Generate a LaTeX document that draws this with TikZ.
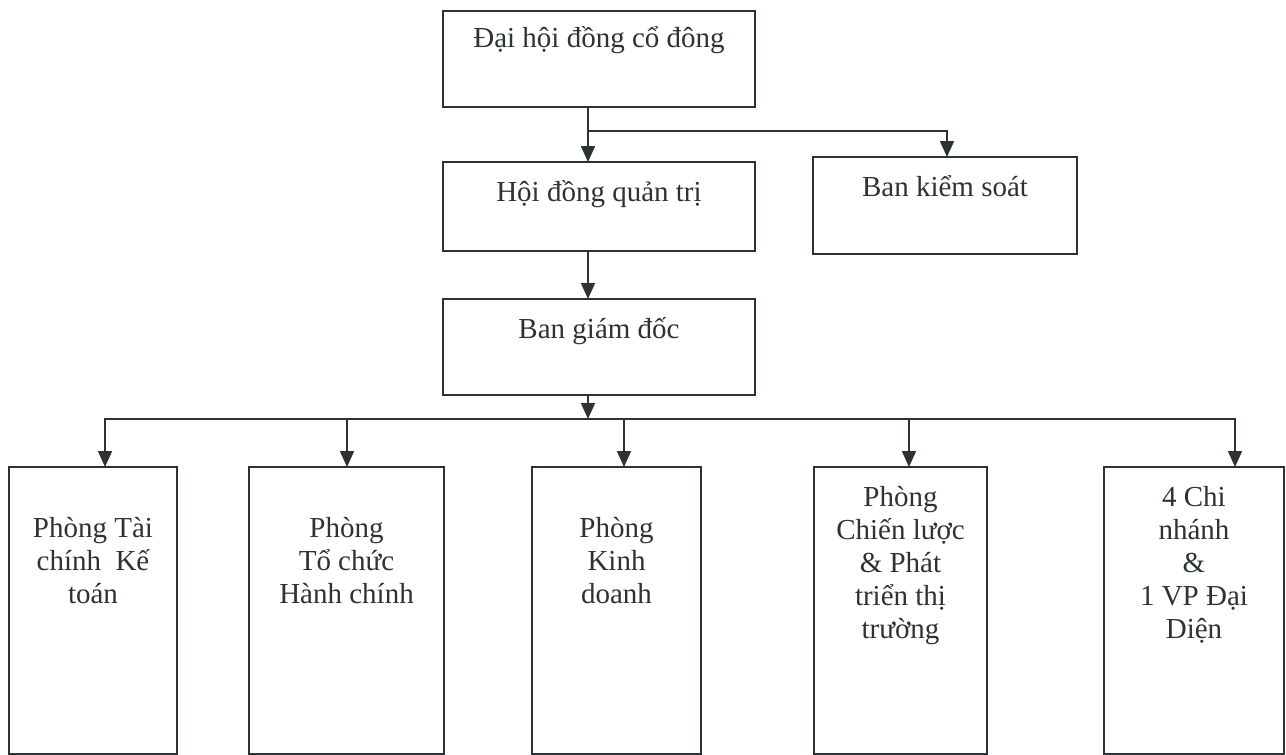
\documentclass[tikz,border=0pt]{standalone}
\usepackage{fontspec}
\setmainfont{Liberation Serif}
\usetikzlibrary{arrows.meta}
\definecolor{ink}{RGB}{45,50,52}
\begin{document}
\begin{tikzpicture}[x=1pt,y=-1pt,
  box/.style={draw=ink, line width=1.9pt, rectangle, inner sep=0pt, outer sep=0pt},
  lbl/.style={text=ink, font=\fontsize{29}{33}\selectfont, align=center, anchor=base, inner sep=0pt},
  arr/.style={draw=ink, line width=1.7pt, -{Triangle[length=16pt,width=14pt]}},
  ln/.style={draw=ink, line width=1.7pt}]
\useasboundingbox (0,0) rectangle (1286,755);
% boxes
\node[box, minimum width=312pt, minimum height=96pt] (top) at (599,59) {};
\node[box, minimum width=312pt, minimum height=89pt] (hdqt) at (599,206.5) {};
\node[box, minimum width=264pt, minimum height=97pt] (bks) at (945,205.5) {};
\node[box, minimum width=312pt, minimum height=96pt] (bgd) at (599,347) {};
\node[box, minimum width=168pt, minimum height=287pt] (b1) at (93,610.5) {};
\node[box, minimum width=195pt, minimum height=287pt] (b2) at (346.5,610.5) {};
\node[box, minimum width=169pt, minimum height=287pt] (b3) at (616.5,610.5) {};
\node[box, minimum width=173pt, minimum height=287pt] (b4) at (900.5,610.5) {};
\node[box, minimum width=180pt, minimum height=287pt] (b5) at (1194,610.5) {};
% texts (base anchor = baseline of the last line)
\node[lbl] (ttop) at ([yshift=-36pt]top.north) {Đại hội đồng cổ đông};
\node[lbl] (thdqt) at ([yshift=-39pt]hdqt.north) {Hội đồng quản trị};
\node[lbl] (tbks) at ([yshift=-39pt]bks.north) {Ban kiểm soát};
\node[lbl] (tbgd) at ([yshift=-39pt]bgd.north) {Ban giám đốc};
\node[lbl] (t1) at ([yshift=-136pt]b1.north) {Phòng Tài\\chính\ \ Kế\\toán};
\node[lbl] (t2) at ([yshift=-136pt]b2.north) {Phòng\\Tổ chức\\Hành chính};
\node[lbl] (t3) at ([yshift=-136pt]b3.north) {Phòng\\Kinh\\doanh};
\node[lbl] (t4) at ([yshift=-171pt]b4.north) {Phòng\\Chiến lược\\\& Phát\\triển thị\\trường};
\node[lbl] (t5) at ([yshift=-171pt]b5.north) {4 Chi\\nhánh\\\&\\1 VP Đại\\Diện};
% junctions
\coordinate (c0) at (588,131);
\coordinate (c1) at (588,419);
\coordinate (k1) at (105,419);
\coordinate (k2) at (347,419);
\coordinate (k3) at (624,419);
\coordinate (k4) at (909,419);
\coordinate (k5) at (1235,419);
\coordinate (kb) at (947,157);
% connectors
\draw[arr] (top.south -| c0) -- (hdqt.north -| c0);
\draw[arr] (c0) -| (bks.north -| kb);
\draw[arr] (hdqt.south -| c0) -- (bgd.north -| c0);
\draw[arr] (bgd.south -| c1) -- (c1);
\draw[arr] (c1) -| (b1.north -| k1);
\draw[arr] (c1) -| (b5.north -| k5);
\draw[arr] (k2) -- (b2.north -| k2);
\draw[arr] (k3) -- (b3.north -| k3);
\draw[arr] (k4) -- (b4.north -| k4);
\end{tikzpicture}
\end{document}
